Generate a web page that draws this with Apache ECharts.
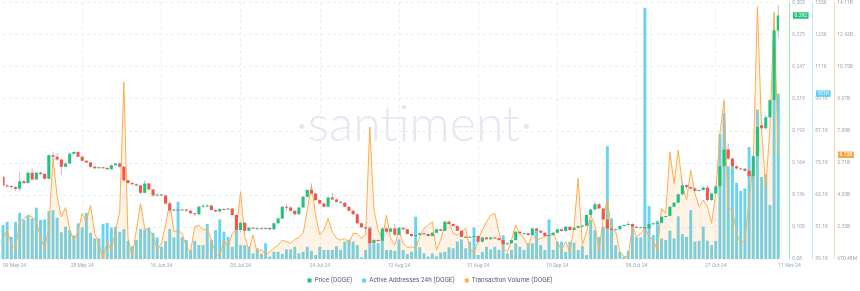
<!DOCTYPE html>
<html><head><meta charset="utf-8">
<script src="https://cdn.jsdelivr.net/npm/echarts@6/dist/echarts.min.js"></script>
<style>html,body{margin:0;padding:0;background:#fff}#c{width:860px;height:291px}</style>
</head><body><div id="c"></div>
<script>
// ---------- DATA ----------
const startDate = [2024, 4, 9]; // 09 May 2024 (UTC, month 0-based)
const xTickLabels = ['09 May 24','28 May 24','16 Jun 24','05 Jul 24','24 Jul 24','12 Aug 24','31 Aug 24','19 Sep 24','08 Oct 24','27 Oct 24','11 Nov 24'];
const xTickIndex = [0,19,38,57,76,95,114,133,152,171,186];

const priceTickLabels = ['0.08','0.108','0.136','0.164','0.192','0.219','0.247','0.275','0.303'];
const addrTickLabels  = ['39.1K','51.1K','63.1K','75.1K','87.1K','99.1K','111K','123K','135K'];
const volTickLabels   = ['670.48M','2.35B','4.03B','5.71B','7.39B','9.07B','10.75B','12.43B','14.11B'];
const priceRange = [0.08, 0.303];
const addrRange  = [39.1, 135.1];       // thousands
const volRange   = [0.67048, 14.11048]; // billions

// Price (DOGE) daily candles: [open, close, low, high]
const candles = [
[0.1514,0.1440,0.1430,0.1525],[0.1440,0.1435,0.1425,0.1452],[0.1435,0.1425,0.1415,0.1442],[0.1425,0.1410,0.1395,0.1432],[0.1410,0.1475,0.1390,0.1557],
[0.1475,0.1460,0.1450,0.1488],[0.1460,0.1550,0.1455,0.1560],[0.1550,0.1492,0.1485,0.1587],[0.1492,0.1550,0.1488,0.1556],[0.1550,0.1540,0.1528,0.1562],
[0.1540,0.1498,0.1490,0.1548],[0.1498,0.1702,0.1492,0.1712],[0.1702,0.1688,0.1670,0.1731],[0.1688,0.1665,0.1655,0.1722],[0.1665,0.1601,0.1529,0.1670],
[0.1601,0.1630,0.1595,0.1640],[0.1630,0.1716,0.1625,0.1725],[0.1716,0.1731,0.1705,0.1738],[0.1731,0.1690,0.1685,0.1736],[0.1690,0.1655,0.1650,0.1696],
[0.1655,0.1640,0.1634,0.1660],[0.1640,0.1601,0.1595,0.1645],[0.1601,0.1590,0.1580,0.1608],[0.1590,0.1598,0.1585,0.1604],[0.1598,0.1592,0.1585,0.1603],
[0.1592,0.1581,0.1575,0.1598],[0.1581,0.1616,0.1578,0.1620],[0.1616,0.1630,0.1610,0.1636],[0.1630,0.1601,0.1596,0.1640],[0.1601,0.1485,0.1470,0.1610],
[0.1485,0.1460,0.1452,0.1490],[0.1460,0.1450,0.1445,0.1466],[0.1450,0.1439,0.1430,0.1456],[0.1439,0.1376,0.1365,0.1445],[0.1376,0.1457,0.1370,0.1485],
[0.1457,0.1405,0.1398,0.1462],[0.1405,0.1353,0.1340,0.1410],[0.1353,0.1361,0.1345,0.1367],[0.1361,0.1353,0.1346,0.1366],[0.1353,0.1283,0.1275,0.1360],
[0.1283,0.1222,0.1200,0.1290],[0.1222,0.1231,0.1215,0.1237],[0.1231,0.1228,0.1220,0.1236],[0.1228,0.1231,0.1222,0.1238],[0.1231,0.1219,0.1212,0.1236],
[0.1219,0.1197,0.1190,0.1225],[0.1197,0.1188,0.1172,0.1203],[0.1188,0.1254,0.1183,0.1262],[0.1254,0.1262,0.1245,0.1280],[0.1262,0.1265,0.1250,0.1275],
[0.1265,0.1225,0.1218,0.1270],[0.1225,0.1214,0.1208,0.1230],[0.1214,0.1235,0.1210,0.1240],[0.1235,0.1231,0.1225,0.1242],[0.1231,0.1240,0.1226,0.1246],
[0.1240,0.1182,0.1175,0.1245],[0.1182,0.1052,0.1040,0.1188],[0.1052,0.1115,0.1035,0.1125],[0.1115,0.1046,0.1040,0.1120],[0.1046,0.1072,0.1040,0.1078],
[0.1072,0.1066,0.1060,0.1078],[0.1066,0.1068,0.1060,0.1075],[0.1068,0.1066,0.1060,0.1074],[0.1066,0.1070,0.1061,0.1076],[0.1070,0.1058,0.1052,0.1075],
[0.1058,0.1110,0.1054,0.1115],[0.1110,0.1153,0.1105,0.1160],[0.1153,0.1254,0.1148,0.1262],[0.1254,0.1248,0.1215,0.1280],[0.1248,0.1219,0.1212,0.1255],
[0.1219,0.1190,0.1183,0.1225],[0.1190,0.1248,0.1185,0.1254],[0.1248,0.1341,0.1243,0.1348],[0.1341,0.1399,0.1335,0.1405],[0.1399,0.1370,0.1362,0.1457],
[0.1370,0.1312,0.1305,0.1378],[0.1312,0.1283,0.1276,0.1318],[0.1283,0.1255,0.1248,0.1290],[0.1255,0.1335,0.1250,0.1341],[0.1335,0.1318,0.1310,0.1376],
[0.1318,0.1297,0.1290,0.1325],[0.1297,0.1289,0.1282,0.1303],[0.1289,0.1254,0.1248,0.1295],[0.1254,0.1219,0.1212,0.1260],[0.1219,0.1190,0.1183,0.1225],
[0.1190,0.1110,0.1104,0.1196],[0.1110,0.1075,0.1066,0.1116],[0.1075,0.1066,0.1040,0.1082],[0.1066,0.0936,0.0880,0.1070],[0.0936,0.0965,0.0930,0.0975],
[0.0965,0.0959,0.0950,0.0972],[0.0959,0.1066,0.0955,0.1072],[0.1066,0.1037,0.1030,0.1075],[0.1037,0.1066,0.1032,0.1072],[0.1066,0.1010,0.1000,0.1104],
[0.1010,0.1072,0.1005,0.1078],[0.1072,0.1058,0.1050,0.1078],[0.1058,0.1017,0.1012,0.1062],[0.1017,0.1000,0.0994,0.1022],[0.1000,0.1008,0.0995,0.1014],
[0.1008,0.1023,0.1003,0.1028],[0.1023,0.1017,0.1010,0.1028],[0.1017,0.1000,0.0995,0.1022],[0.1000,0.1028,0.0996,0.1033],[0.1028,0.1058,0.1024,0.1064],
[0.1058,0.1046,0.1040,0.1063],[0.1046,0.1124,0.1042,0.1135],[0.1124,0.1104,0.1098,0.1135],[0.1104,0.1086,0.1080,0.1110],[0.1086,0.1046,0.1040,0.1092],
[0.1046,0.0994,0.0988,0.1052],[0.0994,0.0990,0.0984,0.1000],[0.0990,0.0994,0.0985,0.0999],[0.0994,0.1000,0.0988,0.1006],[0.1000,0.0950,0.0944,0.1005],
[0.0950,0.0988,0.0945,0.0994],[0.0988,0.0971,0.0966,0.0994],[0.0971,0.0988,0.0966,0.0994],[0.0988,0.0980,0.0975,0.0993],[0.0980,0.0965,0.0958,0.0985],
[0.0965,0.0928,0.0922,0.0970],[0.0928,0.0936,0.0922,0.0942],[0.0936,0.0965,0.0932,0.0970],[0.0965,0.1037,0.0960,0.1043],[0.1037,0.1023,0.1017,0.1042],
[0.1023,0.1023,0.1017,0.1030],[0.1023,0.1008,0.1002,0.1028],[0.1008,0.1066,0.1004,0.1072],[0.1066,0.1046,0.1040,0.1075],[0.1046,0.1028,0.1022,0.1052],
[0.1028,0.1000,0.0994,0.1033],[0.1000,0.1008,0.0995,0.1014],[0.1008,0.1028,0.1003,0.1034],[0.1028,0.1058,0.1024,0.1064],[0.1058,0.1043,0.1037,0.1063],
[0.1043,0.1080,0.1038,0.1086],[0.1080,0.1052,0.1046,0.1085],[0.1052,0.1072,0.1048,0.1078],[0.1072,0.1086,0.1066,0.1092],[0.1086,0.1090,0.1078,0.1098],
[0.1090,0.1182,0.1085,0.1188],[0.1182,0.1231,0.1176,0.1238],[0.1231,0.1277,0.1226,0.1300],[0.1277,0.1240,0.1234,0.1290],[0.1240,0.1144,0.1138,0.1246],
[0.1144,0.1066,0.1060,0.1150],[0.1066,0.1052,0.1045,0.1072],[0.1052,0.1058,0.1046,0.1064],[0.1058,0.1086,0.1053,0.1092],[0.1086,0.1095,0.1080,0.1101],
[0.1095,0.1104,0.1090,0.1130],[0.1104,0.1080,0.1074,0.1110],[0.1080,0.1072,0.1066,0.1086],[0.1072,0.1075,0.1066,0.1081],[0.1075,0.1066,0.1060,0.1080],
[0.1066,0.1104,0.1062,0.1110],[0.1104,0.1110,0.1098,0.1116],[0.1110,0.1115,0.1104,0.1122],[0.1115,0.1167,0.1110,0.1173],[0.1167,0.1173,0.1160,0.1180],
[0.1173,0.1254,0.1168,0.1260],[0.1254,0.1289,0.1248,0.1296],[0.1289,0.1364,0.1284,0.1370],[0.1364,0.1442,0.1358,0.1480],[0.1442,0.1425,0.1406,0.1450],
[0.1425,0.1413,0.1405,0.1433],[0.1413,0.1393,0.1386,0.1422],[0.1393,0.1399,0.1388,0.1405],[0.1399,0.1422,0.1392,0.1430],[0.1422,0.1312,0.1300,0.1440],
[0.1312,0.1370,0.1306,0.1376],[0.1370,0.1433,0.1364,0.1440],[0.1433,0.1607,0.1428,0.1615],[0.1607,0.1752,0.1600,0.1760],[0.1752,0.1674,0.1665,0.1804],
[0.1674,0.1607,0.1598,0.1680],[0.1607,0.1587,0.1580,0.1615],[0.1587,0.1585,0.1578,0.1594],[0.1585,0.1567,0.1560,0.1592],[0.1567,0.1520,0.1512,0.1578],
[0.1520,0.1694,0.1515,0.1705],[0.1694,0.1948,0.1688,0.1960],[0.1963,0.1937,0.1915,0.2020],[0.1937,0.2032,0.1925,0.2050],[0.2032,0.2180,0.2025,0.2190],
[0.2180,0.2787,0.2170,0.2800],[0.2787,0.2917,0.2720,0.3004]
];

// Active Addresses 24h (DOGE), thousands
const activeAddresses = [
51.8,53.0,47.4,53.0,56.4,53.7,55.3,54.3,58.3,53.7,
53.9,57.0,57.4,54.5,49.1,51.2,49.9,47.9,52.4,50.9,
56.4,48.9,46.8,46.8,52.2,52.6,50.9,51.2,49.3,50.3,
45.9,43.9,46.2,50.3,50.2,50.9,48.9,47.2,43.7,45.8,
50.3,47.2,60.5,47.2,46.2,42.5,45.9,44.3,44.3,52.2,
46.2,49.9,53.9,49.3,47.4,43.7,53.0,44.3,44.3,43.7,
41.2,43.1,41.0,45.0,40.0,41.8,41.8,41.0,42.7,42.7,
43.7,41.2,41.8,43.7,42.2,40.6,43.7,42.5,42.5,42.5,
43.9,42.5,45.6,46.4,45.6,44.3,39.7,42.5,51.2,44.7,
45.0,46.8,42.5,42.5,42.1,46.4,42.5,41.0,41.8,54.9,
43.5,41.2,40.0,41.2,40.1,41.5,41.8,43.5,43.1,45.6,
46.4,43.1,45.6,50.9,40.6,41.8,43.7,42.7,43.7,42.5,
48.0,41.2,42.5,45.0,43.7,42.5,45.0,45.0,49.9,44.3,
42.5,53.9,42.5,45.6,45.6,41.8,45.6,45.2,42.5,44.0,
40.6,53.7,49.9,47.4,51.2,81.3,54.3,44.3,41.8,40.0,
42.2,51.2,47.2,47.2,133.1,58.9,48.1,53.4,46.8,46.2,
49.7,46.8,55.1,48.4,47.4,57.4,45.6,45.9,51.2,45.9,
44.3,45.9,85.8,93.7,73.8,73.8,67.6,64.6,65.5,81.0,
72.3,95.0,69.8,70.8,59.3,98.4,101.0
];

// Transaction Volume (DOGE), billions
const txVolume = [
1.75,2.19,1.40,1.23,2.62,2.80,2.97,2.88,2.62,1.84,
1.19,2.36,5.94,3.93,2.88,3.37,2.19,1.66,2.10,3.06,
2.62,3.49,2.01,1.49,0.71,1.58,1.14,2.19,3.15,9.94,
1.75,0.83,2.19,3.58,2.28,2.19,1.93,1.14,1.49,2.45,
3.67,2.10,2.19,2.01,1.31,1.05,2.36,2.45,2.19,2.28,
1.66,0.97,0.79,1.66,1.31,2.01,2.19,4.19,1.84,1.14,
1.93,0.97,1.18,0.88,1.05,1.23,1.40,1.66,1.58,1.49,
1.70,1.80,2.01,3.23,4.54,2.97,1.93,2.19,2.80,2.10,
1.75,1.66,1.75,1.49,2.01,2.01,1.75,1.93,7.59,3.23,
2.19,1.75,2.97,1.75,1.40,2.19,1.49,1.28,1.31,1.23,
1.84,2.28,2.45,2.62,1.14,1.66,2.45,2.62,2.01,1.93,
2.10,2.28,1.23,0.97,1.66,2.19,2.62,2.97,3.06,2.10,
1.23,1.05,1.66,2.45,2.01,1.75,1.31,2.01,1.66,1.75,
1.84,1.93,2.01,1.58,1.14,1.58,1.05,2.36,4.90,1.40,
2.10,2.97,2.45,1.14,2.80,3.76,2.19,2.10,1.05,0.79,
0.83,2.40,1.84,2.01,2.28,1.84,1.66,1.14,3.32,3.06,
6.28,4.63,6.37,4.54,3.76,5.33,4.11,3.41,3.76,3.41,
2.54,4.11,7.24,8.99,3.32,3.27,2.01,1.49,1.66,3.76,
5.68,13.90,7.42,4.45,7.50,13.60,6.13
];

// ---------- STYLE ----------
const UP = '#21c27c', DOWN = '#f0564c', WICK = '#b4bacb';
const BAR = '#69d4f2', VOL = '#ffad4d';
const FONT = 'Roboto, "Open Sans", sans-serif';
const AX_LABEL = '#9ea6b9';
const GRID_RIGHT = 79;
const AXIS_OFFSETS = [11, 34, 56];

// ---------- BUILD ----------
const N = candles.length;
const categories = [];
const t0 = Date.UTC(startDate[0], startDate[1], startDate[2]);
for (let i = 0; i < N; i++) categories.push(new Date(t0 + i * 86400000).toISOString().slice(0, 10));

function ticksFor(range) {
  const step = (range[1] - range[0]) / 8;
  const v = [];
  for (let k = 0; k <= 8; k++) v.push(range[0] + k * step);
  return v;
}
function labelFor(range, labels) {
  const step = (range[1] - range[0]) / 8;
  return (val) => labels[Math.round((val - range[0]) / step)] || '';
}
function rightAxis(range, labels, offset, lineColor) {
  return {
    type: 'value', position: 'right', offset: offset,
    min: range[0], max: range[1],
    axisLine: { show: true, onZero: false, lineStyle: { color: lineColor, width: 1 } },
    axisTick: { show: false },
    splitLine: { show: false },
    axisLabel: {
      show: true, customValues: ticksFor(range), formatter: labelFor(range, labels),
      fontSize: 5, color: AX_LABEL, margin: 3, fontFamily: FONT
    }
  };
}

const showTick = (idx) => xTickIndex.indexOf(idx) >= 0;
const showGrid = (idx) => xTickIndex.indexOf(idx) > 0 && idx !== N - 1;

function renderCandle(params, api) {
  const i = api.value(0);
  const o = api.value(1), c = api.value(2), l = api.value(3), h = api.value(4);
  const po = api.coord([i, o]), pc = api.coord([i, c]);
  const pl = api.coord([i, l]), ph = api.coord([i, h]);
  const band = api.size([1, 0])[0];
  const w = band * 0.74;
  const x = po[0];
  const top = Math.min(po[1], pc[1]);
  const hh = Math.max(Math.abs(po[1] - pc[1]), 1);
  return {
    type: 'group',
    children: [
      { type: 'line', shape: { x1: x, y1: ph[1], x2: x, y2: pl[1] }, style: { stroke: WICK, lineWidth: 0.9 } },
      { type: 'rect', shape: { x: x - w / 2, y: top, width: w, height: hh }, style: { fill: c >= o ? UP : DOWN } }
    ]
  };
}

const chart = echarts.init(document.getElementById('c'), null, { renderer: 'canvas' });
const option = {
  animation: false,
  backgroundColor: '#ffffff',
  textStyle: { fontFamily: FONT },
  grid: { left: 0, right: GRID_RIGHT, top: 2, bottom: 32, containLabel: false },
  legend: {
    bottom: 2, left: 'center', itemWidth: 4, itemHeight: 4, itemGap: 10, icon: 'rect',
    textStyle: { fontSize: 6.5, color: '#56607a', fontFamily: FONT, padding: [0, 0, 0, -2] },
    data: [
      { name: 'Price (DOGE)', itemStyle: { color: UP } },
      { name: 'Active Addresses 24h (DOGE)', itemStyle: { color: BAR } },
      { name: 'Transaction Volume (DOGE)', itemStyle: { color: VOL } }
    ]
  },
  graphic: [{
    type: 'text', x: 414, y: 125, z: 0, silent: true,
    style: { text: '·santiment·', fill: '#e5e8f1', font: '300 50px Lato, "Open Sans", sans-serif', align: 'center', verticalAlign: 'middle' }
  }],
  xAxis: {
    type: 'category', data: categories, boundaryGap: false,
    axisLine: { show: false }, axisTick: { show: false },
    axisLabel: {
      interval: (idx) => showTick(idx),
      formatter: (val, idx) => xTickLabels[xTickIndex.indexOf(idx)],
      fontSize: 5, color: AX_LABEL, margin: 4, alignMinLabel: 'left', alignMaxLabel: 'left'
    },
    splitLine: { show: true, interval: (idx) => showGrid(idx), lineStyle: { color: '#eceef4', type: [3, 3], width: 1 } }
  },
  yAxis: [
    rightAxis(priceRange, priceTickLabels, AXIS_OFFSETS[0], '#a3e6b6'),
    rightAxis(addrRange, addrTickLabels, AXIS_OFFSETS[1], '#bde9f6'),
    rightAxis(volRange, volTickLabels, AXIS_OFFSETS[2], '#fbd8b0'),
    { type: 'value', position: 'left', min: 0, max: 8, interval: 1,
      axisLine: { show: false }, axisTick: { show: false }, axisLabel: { show: false },
      splitLine: { show: true, lineStyle: { color: '#eceef4', type: [3, 3], width: 1 } } }
  ],
  series: [
    { name: 'Active Addresses 24h (DOGE)', type: 'bar', yAxisIndex: 1, data: activeAddresses,
      barWidth: '70%', itemStyle: { color: BAR }, z: 1, clip: true },
    { name: 'Transaction Volume (DOGE)', type: 'line', yAxisIndex: 2, data: txVolume,
      symbol: 'none', lineStyle: { color: VOL, width: 1 }, itemStyle: { color: VOL },
      areaStyle: { color: 'rgba(255,173,77,0.2)', origin: 'start' }, z: 2 },
    { name: 'Price (DOGE)', type: 'custom', yAxisIndex: 0, renderItem: renderCandle,
      data: candles.map((c, i) => [i, c[0], c[1], c[2], c[3]]),
      encode: { x: 0, y: [1, 2, 3, 4] }, itemStyle: { color: UP }, z: 3, clip: true }
  ]
};
chart.setOption(option);

// last-value tags on the three axes
const last = N - 1;
const tagDefs = [
  { axis: 0, value: candles[last][1], text: candles[last][1].toFixed(3), bg: UP },
  { axis: 1, value: activeAddresses[last], text: Math.round(activeAddresses[last]) + 'K', bg: '#5fd0ef' },
  { axis: 2, value: txVolume[last], text: txVolume[last].toFixed(2) + 'B', bg: '#f7a446' }
];
const gridRightX = 860 - GRID_RIGHT;
const tags = tagDefs.map(t => ({
  type: 'text', z: 100, silent: true,
  x: gridRightX + AXIS_OFFSETS[t.axis] + 1,
  y: chart.convertToPixel({ yAxisIndex: t.axis }, t.value),
  style: { text: t.text, fill: '#ffffff', backgroundColor: t.bg, padding: [1, 1.5, 0.5, 1.5],
           font: '5px ' + FONT, align: 'left', verticalAlign: 'middle' }
}));
chart.setOption({ graphic: option.graphic.concat(tags) });
</script>
</body></html>
